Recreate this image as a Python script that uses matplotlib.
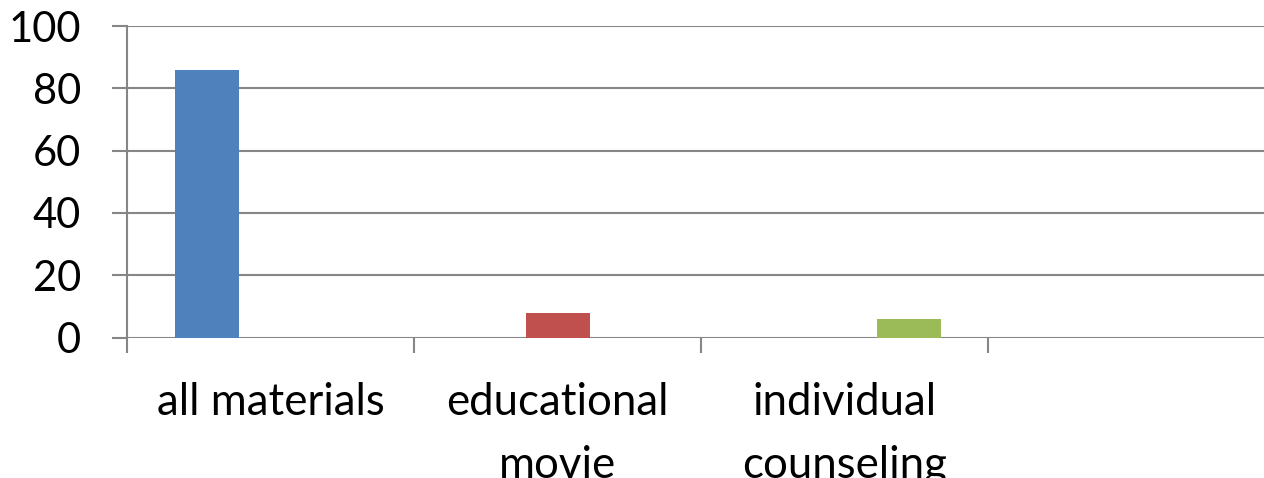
import numpy as np
import matplotlib.pyplot as plt

categories = ['all materials', 'educational\nmovie', 'individual\ncounseling', '']
series_values = [
    [86, 0, 0, 0],
    [0, 8, 0, 0],
    [0, 0, 6, 0],
]
series_colors = ['#4F81BD', '#C0504D', '#9BBB59']
y_ticks = [0, 20, 40, 60, 80, 100]

plt.rcParams['font.family'] = ['Lato', 'DejaVu Sans']

fig = plt.figure(figsize=(12.64, 4.78), dpi=100)
ax = fig.add_axes([127 / 1264, 140.5 / 478, 1148 / 1264, 311.5 / 478])

x = np.arange(len(categories))
bar_w = 64 / 287
for k, (vals, col) in enumerate(zip(series_values, series_colors)):
    ax.bar(x + (k - 1) * bar_w, vals, width=bar_w, color=col, zorder=3)

ax.set_xlim(-0.5, len(categories) - 0.5)
ax.set_ylim(0, 100)
ax.set_yticks(y_ticks)
ax.set_yticklabels([str(v) for v in y_ticks], fontsize=30)
ax.yaxis.grid(True, color='#868686', linewidth=1.5, zorder=0)

# category boundaries as major ticks, labels on minor ticks
ax.set_xticks(np.arange(len(categories) + 1) - 0.5)
ax.set_xticklabels([])
ax.set_xticks(x, minor=True)
ax.set_xticklabels(categories, minor=True, fontsize=31.5, linespacing=1.68)
ax.tick_params(axis='x', which='minor', length=0, pad=32)
ax.tick_params(axis='x', which='major', length=11, width=1.5, color='#868686')
ax.tick_params(axis='y', length=11, width=1.5, color='#868686', pad=22)

for s in ['top', 'right', 'bottom']:
    ax.spines[s].set_visible(False)
ax.spines['left'].set_color('#868686')
ax.spines['left'].set_linewidth(1.5)

fig.savefig('out.png', dpi=100)
